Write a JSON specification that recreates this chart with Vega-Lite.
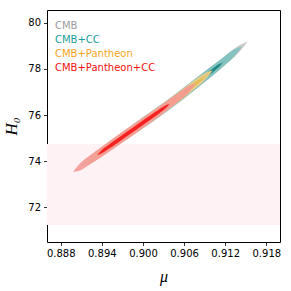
{
  "$schema": "https://vega.github.io/schema/vega-lite/v6.json",
  "autosize": "none",
  "width": 233,
  "height": 232,
  "padding": {"left": 47, "top": 10, "right": 11, "bottom": 49},
  "background": "white",
  "config": {
    "view": {"stroke": "black", "strokeWidth": 1},
    "axis": {"grid": false, "domain": false, "tickColor": "black", "tickSize": 3.5, "tickWidth": 0.8, "labelFont": "DejaVu Sans", "labelFontSize": 10, "labelColor": "black", "titleColor": "black"}
  },
  "datasets": {
    "c": [
      {"k": "go", "mu": 0.89084, "lo": 73.758, "hi": 73.758},
      {"k": "go", "mu": 0.89206, "lo": 73.868, "hi": 74.156},
      {"k": "go", "mu": 0.89451, "lo": 74.317, "hi": 74.725},
      {"k": "go", "mu": 0.89818, "lo": 75.052, "hi": 75.518},
      {"k": "go", "mu": 0.90308, "lo": 76.064, "hi": 76.544},
      {"k": "go", "mu": 0.90797, "lo": 77.186, "hi": 77.652},
      {"k": "go", "mu": 0.91164, "lo": 78.073, "hi": 78.481},
      {"k": "go", "mu": 0.91409, "lo": 78.740, "hi": 79.028},
      {"k": "go", "mu": 0.91531, "lo": 79.187, "hi": 79.187},
      {"k": "gi", "mu": 0.89817, "lo": 75.283, "hi": 75.283},
      {"k": "gi", "mu": 0.89887, "lo": 75.368, "hi": 75.488},
      {"k": "gi", "mu": 0.90026, "lo": 75.632, "hi": 75.802},
      {"k": "gi", "mu": 0.90235, "lo": 76.055, "hi": 76.249},
      {"k": "gi", "mu": 0.90513, "lo": 76.666, "hi": 76.866},
      {"k": "gi", "mu": 0.90791, "lo": 77.309, "hi": 77.503},
      {"k": "gi", "mu": 0.91000, "lo": 77.801, "hi": 77.971},
      {"k": "gi", "mu": 0.91139, "lo": 78.155, "hi": 78.275},
      {"k": "gi", "mu": 0.91209, "lo": 78.388, "hi": 78.388},
      {"k": "to", "mu": 0.89303, "lo": 74.214, "hi": 74.214},
      {"k": "to", "mu": 0.89410, "lo": 74.292, "hi": 74.580},
      {"k": "to", "mu": 0.89624, "lo": 74.677, "hi": 75.085},
      {"k": "to", "mu": 0.89945, "lo": 75.316, "hi": 75.782},
      {"k": "to", "mu": 0.90373, "lo": 76.204, "hi": 76.684},
      {"k": "to", "mu": 0.90801, "lo": 77.196, "hi": 77.662},
      {"k": "to", "mu": 0.91122, "lo": 77.973, "hi": 78.381},
      {"k": "to", "mu": 0.91336, "lo": 78.564, "hi": 78.852},
      {"k": "to", "mu": 0.91443, "lo": 78.973, "hi": 78.973},
      {"k": "ti", "mu": 0.90110, "lo": 75.892, "hi": 75.892},
      {"k": "ti", "mu": 0.90163, "lo": 75.942, "hi": 76.062},
      {"k": "ti", "mu": 0.90268, "lo": 76.136, "hi": 76.306},
      {"k": "ti", "mu": 0.90427, "lo": 76.471, "hi": 76.665},
      {"k": "ti", "mu": 0.90638, "lo": 76.954, "hi": 77.154},
      {"k": "ti", "mu": 0.90848, "lo": 77.440, "hi": 77.634},
      {"k": "ti", "mu": 0.91007, "lo": 77.817, "hi": 77.987},
      {"k": "ti", "mu": 0.91112, "lo": 78.088, "hi": 78.208},
      {"k": "ti", "mu": 0.91165, "lo": 78.279, "hi": 78.279},
      {"k": "oo", "mu": 0.89157, "lo": 73.910, "hi": 73.910},
      {"k": "oo", "mu": 0.89250, "lo": 73.971, "hi": 74.235},
      {"k": "oo", "mu": 0.89436, "lo": 74.303, "hi": 74.677},
      {"k": "oo", "mu": 0.89715, "lo": 74.858, "hi": 75.284},
      {"k": "oo", "mu": 0.90088, "lo": 75.626, "hi": 76.066},
      {"k": "oo", "mu": 0.90460, "lo": 76.431, "hi": 76.857},
      {"k": "oo", "mu": 0.90739, "lo": 77.099, "hi": 77.473},
      {"k": "oo", "mu": 0.90925, "lo": 77.582, "hi": 77.846},
      {"k": "oo", "mu": 0.91018, "lo": 77.928, "hi": 77.928},
      {"k": "oi", "mu": 0.89641, "lo": 74.917, "hi": 74.917},
      {"k": "oi", "mu": 0.89704, "lo": 74.988, "hi": 75.108},
      {"k": "oi", "mu": 0.89830, "lo": 75.225, "hi": 75.395},
      {"k": "oi", "mu": 0.90019, "lo": 75.606, "hi": 75.800},
      {"k": "oi", "mu": 0.90271, "lo": 76.127, "hi": 76.327},
      {"k": "oi", "mu": 0.90523, "lo": 76.692, "hi": 76.886},
      {"k": "oi", "mu": 0.90712, "lo": 77.139, "hi": 77.309},
      {"k": "oi", "mu": 0.90838, "lo": 77.454, "hi": 77.574},
      {"k": "oi", "mu": 0.90901, "lo": 77.659, "hi": 77.659},
      {"k": "ro", "mu": 0.88981, "lo": 73.544, "hi": 73.544},
      {"k": "ro", "mu": 0.89070, "lo": 73.591, "hi": 73.867},
      {"k": "ro", "mu": 0.89249, "lo": 73.905, "hi": 74.297},
      {"k": "ro", "mu": 0.89517, "lo": 74.436, "hi": 74.882},
      {"k": "ro", "mu": 0.89875, "lo": 75.173, "hi": 75.633},
      {"k": "ro", "mu": 0.90233, "lo": 75.925, "hi": 76.371},
      {"k": "ro", "mu": 0.90501, "lo": 76.543, "hi": 76.935},
      {"k": "ro", "mu": 0.90680, "lo": 77.012, "hi": 77.288},
      {"k": "ro", "mu": 0.90769, "lo": 77.355, "hi": 77.355},
      {"k": "ri", "mu": 0.89333, "lo": 74.276, "hi": 74.276},
      {"k": "ri", "mu": 0.89386, "lo": 74.326, "hi": 74.446},
      {"k": "ri", "mu": 0.89491, "lo": 74.520, "hi": 74.690},
      {"k": "ri", "mu": 0.89649, "lo": 74.836, "hi": 75.030},
      {"k": "ri", "mu": 0.89861, "lo": 75.274, "hi": 75.474},
      {"k": "ri", "mu": 0.90072, "lo": 75.716, "hi": 75.910},
      {"k": "ri", "mu": 0.90230, "lo": 76.057, "hi": 76.227},
      {"k": "ri", "mu": 0.90335, "lo": 76.300, "hi": 76.420},
      {"k": "ri", "mu": 0.90388, "lo": 76.479, "hi": 76.479}
    ],
    "band": [{"lo": 71.24, "hi": 74.74}],
    "leg": [{"s": "CMB"}, {"s": "CMB+CC"}, {"s": "CMB+Pantheon"}, {"s": "CMB+Pantheon+CC"}]
  },
  "encoding": {
    "x": {"field": "mu", "type": "quantitative", "scale": {"domain": [0.886, 0.92], "nice": false, "zero": false},
      "axis": {"values": [0.888, 0.894, 0.9, 0.906, 0.912, 0.918], "format": ".3f", "title": "μ", "titleFont": "Liberation Serif", "titleFontStyle": "italic", "titleFontWeight": "normal", "titleFontSize": 16, "titlePadding": 10, "labelPadding": 3}},
    "y": {"field": "lo", "type": "quantitative", "scale": {"domain": [70.5, 80.55], "nice": false, "zero": false},
      "axis": {"values": [72, 74, 76, 78, 80], "format": "d", "title": "H₀", "titleFont": "Liberation Serif", "titleFontStyle": "italic", "titleFontWeight": "normal", "titleFontSize": 17, "titlePadding": 7, "labelPadding": 3}},
    "y2": {"field": "hi"}
  },
  "layer": [
    {"data": {"name": "band"}, "mark": {"type": "rect", "fill": "#fff2f4"}, "encoding": {"x": null}},
    {"data": {"name": "c"}, "transform": [{"filter": "datum.k == 'go'"}], "mark": {"type": "area", "interpolate": "monotone", "fill": "#c2c2c2", "opacity": 0.9}},
    {"data": {"name": "c"}, "transform": [{"filter": "datum.k == 'gi'"}], "mark": {"type": "area", "interpolate": "monotone", "fill": "#8a8a8a", "opacity": 0.9}},
    {"data": {"name": "c"}, "transform": [{"filter": "datum.k == 'to'"}], "mark": {"type": "area", "interpolate": "monotone", "fill": "#7cc2be", "opacity": 0.9}},
    {"data": {"name": "c"}, "transform": [{"filter": "datum.k == 'ti'"}], "mark": {"type": "area", "interpolate": "monotone", "fill": "#16857f", "opacity": 0.9}},
    {"data": {"name": "c"}, "transform": [{"filter": "datum.k == 'oo'"}], "mark": {"type": "area", "interpolate": "monotone", "fill": "#f6cf82", "opacity": 0.9}},
    {"data": {"name": "c"}, "transform": [{"filter": "datum.k == 'oi'"}], "mark": {"type": "area", "interpolate": "monotone", "fill": "#e4b850", "opacity": 0.9}},
    {"data": {"name": "c"}, "transform": [{"filter": "datum.k == 'ro'"}], "mark": {"type": "area", "interpolate": "monotone", "fill": "#f59a96", "opacity": 0.9}},
    {"data": {"name": "c"}, "transform": [{"filter": "datum.k == 'ri'"}], "mark": {"type": "area", "interpolate": "monotone", "fill": "#f51515", "opacity": 0.9}},
    {"data": {"name": "leg"}, "mark": {"type": "point", "opacity": 0, "size": 1},
      "encoding": {"x": null, "y": null, "y2": null,
        "color": {"field": "s", "type": "nominal",
          "scale": {"domain": ["CMB", "CMB+CC", "CMB+Pantheon", "CMB+Pantheon+CC"], "range": ["#9a9a9a", "#1a9e99", "#f5a623", "#f01010"]},
          "legend": {"title": null, "orient": "top-left", "offset": 11, "symbolSize": 1, "symbolOpacity": 0, "labelOffset": -13, "rowPadding": 4, "labelFont": "DejaVu Sans", "labelFontSize": 10,
            "labelColor": {"expr": "scale('color', datum.value)"}}}}}
  ]
}
